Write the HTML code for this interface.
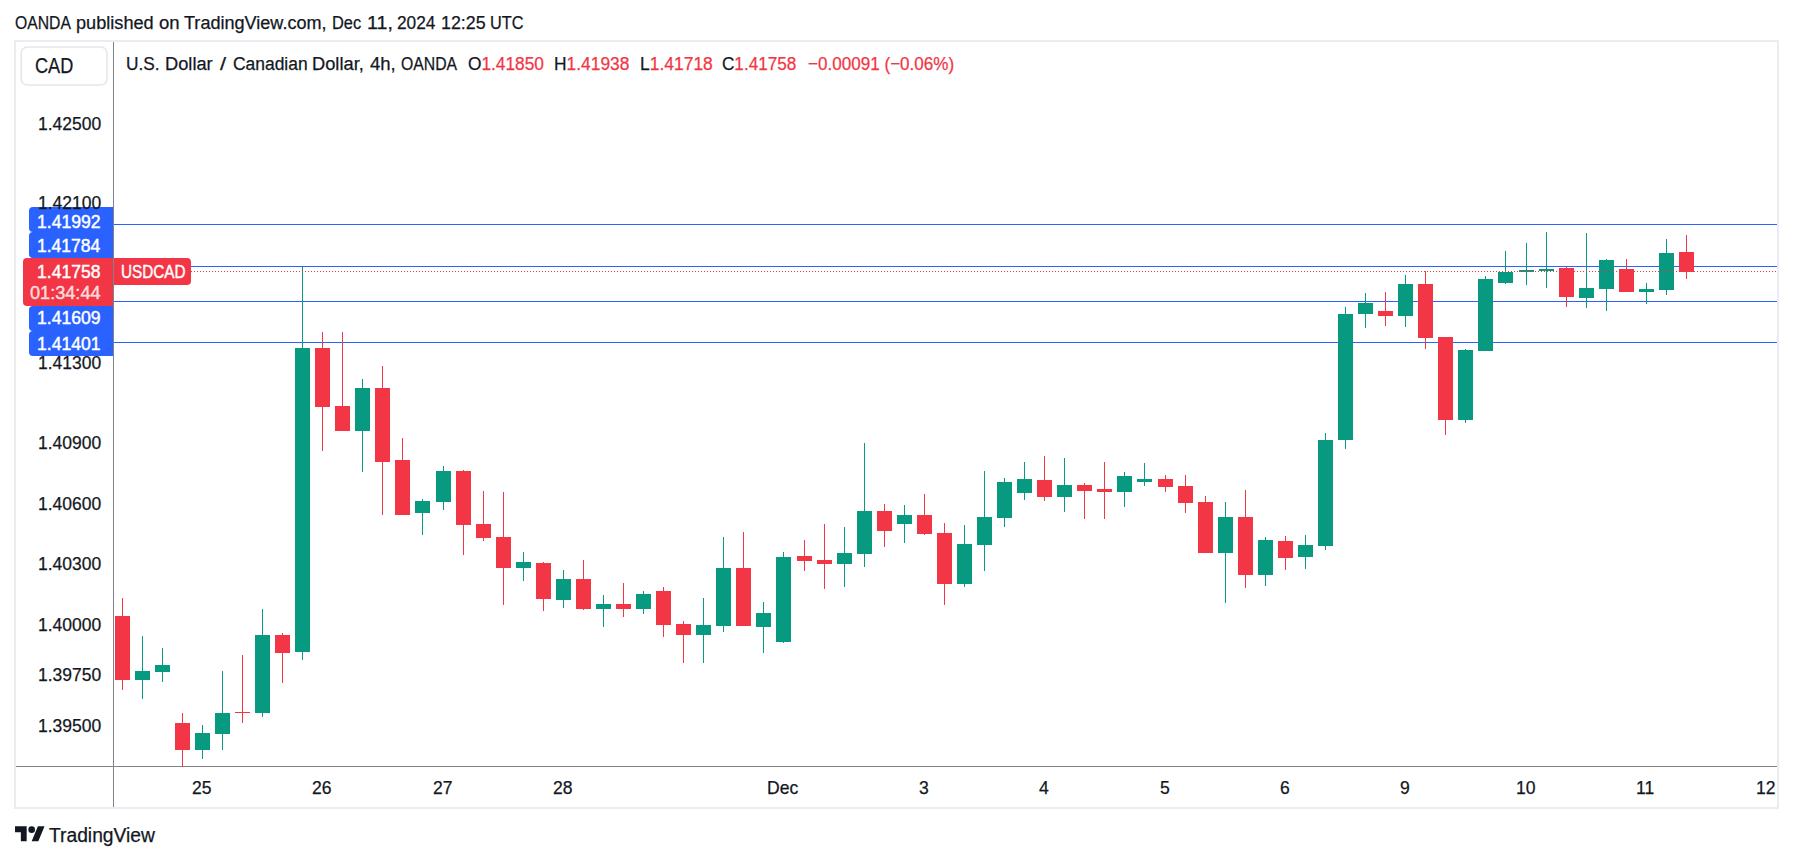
<!DOCTYPE html>
<html><head><meta charset="utf-8">
<style>
html,body{margin:0;padding:0;background:#fff;width:1793px;height:861px;overflow:hidden;}
body{position:relative;font-family:"Liberation Sans",sans-serif;color:#131722;}
.a{position:absolute;}
.t{position:absolute;white-space:nowrap;line-height:1;transform-origin:0 0;-webkit-text-stroke:0.25px currentColor;}
</style></head><body>

<div class="a" style="left:14px;top:40px;width:1761px;height:765px;border:2px solid #eaecf1;"></div>
<svg class="a" style="left:0;top:0" width="120" height="100"><rect x="21.25" y="47" width="85.7" height="38" rx="6" fill="none" stroke="#e3e6ec" stroke-width="1.5"/></svg>
<svg class="a" style="left:0;top:0" width="1793" height="861" shape-rendering="crispEdges">
<rect x="113" y="42" width="1" height="765" fill="#7f828b"/>
<rect x="16" y="766" width="1761" height="1" fill="#7f828b"/>
<rect x="114" y="224" width="1663" height="1" fill="#2962ff"/>
<rect x="114" y="266" width="1663" height="1" fill="#2962ff"/>
<rect x="114" y="301" width="1663" height="1" fill="#2962ff"/>
<rect x="114" y="342" width="1663" height="1" fill="#2962ff"/>
<rect x="122" y="598" width="1" height="92" fill="#f23645"/>
<rect x="115" y="616" width="15" height="64" fill="#f23645"/>
<rect x="142" y="636" width="1" height="63" fill="#089981"/>
<rect x="135" y="671" width="15" height="9" fill="#089981"/>
<rect x="162" y="648" width="1" height="34" fill="#089981"/>
<rect x="155" y="665" width="15" height="7" fill="#089981"/>
<rect x="182" y="713" width="1" height="54" fill="#f23645"/>
<rect x="175" y="723" width="15" height="27" fill="#f23645"/>
<rect x="202" y="725" width="1" height="34" fill="#089981"/>
<rect x="195" y="733" width="15" height="17" fill="#089981"/>
<rect x="222" y="671" width="1" height="79" fill="#089981"/>
<rect x="215" y="713" width="15" height="21" fill="#089981"/>
<rect x="242" y="655" width="1" height="68" fill="#f23645"/>
<rect x="235" y="712" width="15" height="1" fill="#f23645"/>
<rect x="262" y="609" width="1" height="108" fill="#089981"/>
<rect x="255" y="635" width="15" height="78" fill="#089981"/>
<rect x="282" y="633" width="1" height="50" fill="#f23645"/>
<rect x="275" y="635" width="15" height="18" fill="#f23645"/>
<rect x="302" y="267" width="1" height="393" fill="#089981"/>
<rect x="295" y="348" width="15" height="304" fill="#089981"/>
<rect x="322" y="332" width="1" height="119" fill="#f23645"/>
<rect x="315" y="348" width="15" height="59" fill="#f23645"/>
<rect x="342" y="332" width="1" height="99" fill="#f23645"/>
<rect x="335" y="406" width="15" height="25" fill="#f23645"/>
<rect x="362" y="379" width="1" height="93" fill="#089981"/>
<rect x="355" y="388" width="15" height="43" fill="#089981"/>
<rect x="382" y="366" width="1" height="149" fill="#f23645"/>
<rect x="375" y="388" width="15" height="74" fill="#f23645"/>
<rect x="402" y="438" width="1" height="77" fill="#f23645"/>
<rect x="395" y="460" width="15" height="55" fill="#f23645"/>
<rect x="422" y="499" width="1" height="36" fill="#089981"/>
<rect x="415" y="501" width="15" height="12" fill="#089981"/>
<rect x="443" y="466" width="1" height="44" fill="#089981"/>
<rect x="436" y="471" width="15" height="31" fill="#089981"/>
<rect x="463" y="470" width="1" height="85" fill="#f23645"/>
<rect x="456" y="471" width="15" height="54" fill="#f23645"/>
<rect x="483" y="491" width="1" height="50" fill="#f23645"/>
<rect x="476" y="524" width="15" height="14" fill="#f23645"/>
<rect x="503" y="492" width="1" height="113" fill="#f23645"/>
<rect x="496" y="537" width="15" height="31" fill="#f23645"/>
<rect x="523" y="552" width="1" height="29" fill="#089981"/>
<rect x="516" y="562" width="15" height="6" fill="#089981"/>
<rect x="543" y="562" width="1" height="49" fill="#f23645"/>
<rect x="536" y="563" width="15" height="36" fill="#f23645"/>
<rect x="563" y="570" width="1" height="38" fill="#089981"/>
<rect x="556" y="579" width="15" height="21" fill="#089981"/>
<rect x="583" y="560" width="1" height="50" fill="#f23645"/>
<rect x="576" y="579" width="15" height="30" fill="#f23645"/>
<rect x="603" y="595" width="1" height="32" fill="#089981"/>
<rect x="596" y="604" width="15" height="5" fill="#089981"/>
<rect x="623" y="583" width="1" height="34" fill="#f23645"/>
<rect x="616" y="604" width="15" height="5" fill="#f23645"/>
<rect x="643" y="591" width="1" height="23" fill="#089981"/>
<rect x="636" y="594" width="15" height="15" fill="#089981"/>
<rect x="663" y="587" width="1" height="50" fill="#f23645"/>
<rect x="656" y="591" width="15" height="34" fill="#f23645"/>
<rect x="683" y="621" width="1" height="42" fill="#f23645"/>
<rect x="676" y="624" width="15" height="11" fill="#f23645"/>
<rect x="703" y="598" width="1" height="65" fill="#089981"/>
<rect x="696" y="625" width="15" height="10" fill="#089981"/>
<rect x="723" y="537" width="1" height="95" fill="#089981"/>
<rect x="716" y="568" width="15" height="58" fill="#089981"/>
<rect x="743" y="532" width="1" height="94" fill="#f23645"/>
<rect x="736" y="568" width="15" height="58" fill="#f23645"/>
<rect x="763" y="602" width="1" height="51" fill="#089981"/>
<rect x="756" y="613" width="15" height="14" fill="#089981"/>
<rect x="783" y="552" width="1" height="91" fill="#089981"/>
<rect x="776" y="557" width="15" height="85" fill="#089981"/>
<rect x="804" y="540" width="1" height="31" fill="#f23645"/>
<rect x="797" y="556" width="15" height="5" fill="#f23645"/>
<rect x="824" y="524" width="1" height="65" fill="#f23645"/>
<rect x="817" y="560" width="15" height="4" fill="#f23645"/>
<rect x="844" y="527" width="1" height="60" fill="#089981"/>
<rect x="837" y="553" width="15" height="11" fill="#089981"/>
<rect x="864" y="443" width="1" height="124" fill="#089981"/>
<rect x="857" y="511" width="15" height="43" fill="#089981"/>
<rect x="884" y="504" width="1" height="43" fill="#f23645"/>
<rect x="877" y="511" width="15" height="20" fill="#f23645"/>
<rect x="904" y="505" width="1" height="38" fill="#089981"/>
<rect x="897" y="515" width="15" height="9" fill="#089981"/>
<rect x="924" y="494" width="1" height="41" fill="#f23645"/>
<rect x="917" y="515" width="15" height="19" fill="#f23645"/>
<rect x="944" y="523" width="1" height="82" fill="#f23645"/>
<rect x="937" y="533" width="15" height="51" fill="#f23645"/>
<rect x="964" y="525" width="1" height="62" fill="#089981"/>
<rect x="957" y="544" width="15" height="40" fill="#089981"/>
<rect x="984" y="471" width="1" height="100" fill="#089981"/>
<rect x="977" y="517" width="15" height="28" fill="#089981"/>
<rect x="1004" y="478" width="1" height="49" fill="#089981"/>
<rect x="997" y="482" width="15" height="36" fill="#089981"/>
<rect x="1024" y="462" width="1" height="38" fill="#089981"/>
<rect x="1017" y="479" width="15" height="14" fill="#089981"/>
<rect x="1044" y="456" width="1" height="45" fill="#f23645"/>
<rect x="1037" y="480" width="15" height="17" fill="#f23645"/>
<rect x="1064" y="458" width="1" height="54" fill="#089981"/>
<rect x="1057" y="485" width="15" height="12" fill="#089981"/>
<rect x="1084" y="483" width="1" height="36" fill="#f23645"/>
<rect x="1077" y="485" width="15" height="6" fill="#f23645"/>
<rect x="1104" y="462" width="1" height="57" fill="#f23645"/>
<rect x="1097" y="489" width="15" height="3" fill="#f23645"/>
<rect x="1124" y="472" width="1" height="35" fill="#089981"/>
<rect x="1117" y="476" width="15" height="16" fill="#089981"/>
<rect x="1144" y="463" width="1" height="23" fill="#089981"/>
<rect x="1137" y="479" width="15" height="3" fill="#089981"/>
<rect x="1165" y="475" width="1" height="17" fill="#f23645"/>
<rect x="1158" y="479" width="15" height="8" fill="#f23645"/>
<rect x="1185" y="475" width="1" height="38" fill="#f23645"/>
<rect x="1178" y="486" width="15" height="17" fill="#f23645"/>
<rect x="1205" y="496" width="1" height="57" fill="#f23645"/>
<rect x="1198" y="502" width="15" height="51" fill="#f23645"/>
<rect x="1225" y="502" width="1" height="101" fill="#089981"/>
<rect x="1218" y="517" width="15" height="36" fill="#089981"/>
<rect x="1245" y="490" width="1" height="98" fill="#f23645"/>
<rect x="1238" y="517" width="15" height="58" fill="#f23645"/>
<rect x="1265" y="537" width="1" height="49" fill="#089981"/>
<rect x="1258" y="540" width="15" height="35" fill="#089981"/>
<rect x="1285" y="536" width="1" height="34" fill="#f23645"/>
<rect x="1278" y="541" width="15" height="17" fill="#f23645"/>
<rect x="1305" y="535" width="1" height="34" fill="#089981"/>
<rect x="1298" y="545" width="15" height="12" fill="#089981"/>
<rect x="1325" y="433" width="1" height="117" fill="#089981"/>
<rect x="1318" y="440" width="15" height="106" fill="#089981"/>
<rect x="1345" y="307" width="1" height="142" fill="#089981"/>
<rect x="1338" y="314" width="15" height="126" fill="#089981"/>
<rect x="1365" y="293" width="1" height="35" fill="#089981"/>
<rect x="1358" y="303" width="15" height="11" fill="#089981"/>
<rect x="1385" y="292" width="1" height="34" fill="#f23645"/>
<rect x="1378" y="311" width="15" height="5" fill="#f23645"/>
<rect x="1405" y="275" width="1" height="52" fill="#089981"/>
<rect x="1398" y="284" width="15" height="32" fill="#089981"/>
<rect x="1425" y="271" width="1" height="78" fill="#f23645"/>
<rect x="1418" y="284" width="15" height="54" fill="#f23645"/>
<rect x="1445" y="337" width="1" height="98" fill="#f23645"/>
<rect x="1438" y="337" width="15" height="83" fill="#f23645"/>
<rect x="1465" y="349" width="1" height="74" fill="#089981"/>
<rect x="1458" y="350" width="15" height="70" fill="#089981"/>
<rect x="1485" y="276" width="1" height="75" fill="#089981"/>
<rect x="1478" y="279" width="15" height="72" fill="#089981"/>
<rect x="1505" y="251" width="1" height="33" fill="#089981"/>
<rect x="1498" y="272" width="15" height="11" fill="#089981"/>
<rect x="1526" y="243" width="1" height="42" fill="#089981"/>
<rect x="1519" y="270" width="15" height="2" fill="#089981"/>
<rect x="1546" y="232" width="1" height="56" fill="#089981"/>
<rect x="1539" y="269" width="15" height="2" fill="#089981"/>
<rect x="1566" y="267" width="1" height="40" fill="#f23645"/>
<rect x="1559" y="268" width="15" height="29" fill="#f23645"/>
<rect x="1586" y="233" width="1" height="75" fill="#089981"/>
<rect x="1579" y="288" width="15" height="10" fill="#089981"/>
<rect x="1606" y="259" width="1" height="52" fill="#089981"/>
<rect x="1599" y="260" width="15" height="29" fill="#089981"/>
<rect x="1626" y="259" width="1" height="33" fill="#f23645"/>
<rect x="1619" y="269" width="15" height="23" fill="#f23645"/>
<rect x="1646" y="283" width="1" height="21" fill="#089981"/>
<rect x="1639" y="289" width="15" height="3" fill="#089981"/>
<rect x="1666" y="239" width="1" height="56" fill="#089981"/>
<rect x="1659" y="253" width="15" height="37" fill="#089981"/>
<rect x="1686" y="235" width="1" height="44" fill="#f23645"/>
<rect x="1679" y="252" width="15" height="20" fill="#f23645"/>
<line x1="191" y1="271.5" x2="1777" y2="271.5" stroke="#f23645" stroke-width="1" stroke-dasharray="1 2"/>
</svg>
<div class="a" style="left:29px;top:207px;width:84px;height:25px;background:#2962ff;border-radius:4px 0 0 4px;"></div>
<div class="a" style="left:29px;top:232px;width:84px;height:26px;background:#2962ff;border-radius:4px 0 0 4px;"></div>
<div class="a" style="left:29px;top:306px;width:84px;height:25px;background:#2962ff;border-radius:4px 0 0 4px;"></div>
<div class="a" style="left:29px;top:331px;width:84px;height:25px;background:#2962ff;border-radius:4px 0 0 4px;"></div>
<div class="a" style="left:23px;top:258px;width:90px;height:48px;background:#f23645;border-radius:4px 0 0 4px;"></div>
<div class="a" style="left:114px;top:258px;width:77px;height:27px;background:#f23645;border-radius:0 4px 4px 0;"></div>
<div class="t" style="left:14.79px;top:14.17px;font-size:18.26px;font-weight:normal;color:#131722;transform:scaleX(0.8624);">OANDA</div>
<div class="t" style="left:76.12px;top:14.17px;font-size:18.26px;font-weight:normal;color:#131722;transform:scaleX(0.9936);">published</div>
<div class="t" style="left:158.86px;top:14.17px;font-size:18.26px;font-weight:normal;color:#131722;transform:scaleX(1.0135);">on</div>
<div class="t" style="left:183.55px;top:14.17px;font-size:18.26px;font-weight:normal;color:#131722;transform:scaleX(0.9897);">TradingView.com,</div>
<div class="t" style="left:331.79px;top:14.17px;font-size:18.26px;font-weight:normal;color:#131722;transform:scaleX(0.8985);">Dec</div>
<div class="t" style="left:367.13px;top:14.17px;font-size:18.26px;font-weight:normal;color:#131722;transform:scaleX(1.0762);">11,</div>
<div class="t" style="left:397.34px;top:14.17px;font-size:18.26px;font-weight:normal;color:#131722;transform:scaleX(0.9472);">2024</div>
<div class="t" style="left:440.56px;top:14.17px;font-size:18.26px;font-weight:normal;color:#131722;transform:scaleX(0.9781);">12:25</div>
<div class="t" style="left:490.38px;top:14.17px;font-size:18.26px;font-weight:normal;color:#131722;transform:scaleX(0.8920);">UTC</div>
<div class="t" style="left:125.71px;top:55.05px;font-size:18.41px;font-weight:normal;color:#131722;transform:scaleX(0.9371);">U.S.</div>
<div class="t" style="left:164.54px;top:55.05px;font-size:18.41px;font-weight:normal;color:#131722;transform:scaleX(0.9916);">Dollar</div>
<div class="t" style="left:219.90px;top:55.05px;font-size:18.41px;font-weight:normal;color:#131722;transform:scaleX(1.1854);">/</div>
<div class="t" style="left:232.63px;top:55.05px;font-size:18.41px;font-weight:normal;color:#131722;transform:scaleX(0.9470);">Canadian</div>
<div class="t" style="left:312.14px;top:55.05px;font-size:18.41px;font-weight:normal;color:#131722;transform:scaleX(0.9928);">Dollar,</div>
<div class="t" style="left:369.84px;top:55.05px;font-size:18.41px;font-weight:normal;color:#131722;transform:scaleX(1.0057);">4h,</div>
<div class="t" style="left:400.69px;top:55.05px;font-size:18.41px;font-weight:normal;color:#131722;transform:scaleX(0.8572);">OANDA</div>
<div class="t" style="left:467.62px;top:55.05px;font-size:18.41px;font-weight:normal;color:#131722;transform:scaleX(0.9391);">O<span style="color:#f23645">1.41850</span></div>
<div class="t" style="left:553.61px;top:55.05px;font-size:18.41px;font-weight:normal;color:#131722;transform:scaleX(0.9448);">H<span style="color:#f23645">1.41938</span></div>
<div class="t" style="left:639.50px;top:55.05px;font-size:18.41px;font-weight:normal;color:#131722;transform:scaleX(0.9484);">L<span style="color:#f23645">1.41718</span></div>
<div class="t" style="left:722.34px;top:55.05px;font-size:18.41px;font-weight:normal;color:#131722;transform:scaleX(0.9305);">C<span style="color:#f23645">1.41758</span></div>
<div class="t" style="left:807.55px;top:55.05px;font-size:18.41px;font-weight:normal;color:#f23645;transform:scaleX(0.9278);">−0.00091 (−0.06%)</div>
<div class="t" style="left:34.89px;top:54.85px;font-size:21.59px;font-weight:normal;color:#131722;transform:scaleX(0.8411);">CAD</div>
<div class="t" style="left:37.79px;top:115.05px;font-size:18.31px;font-weight:normal;color:#131722;transform:scaleX(0.9550);">1.42500</div>
<div class="t" style="left:37.79px;top:193.85px;font-size:18.31px;font-weight:normal;color:#131722;transform:scaleX(0.9550);">1.42100</div>
<div class="t" style="left:37.79px;top:354.15px;font-size:18.31px;font-weight:normal;color:#131722;transform:scaleX(0.9550);">1.41300</div>
<div class="t" style="left:37.79px;top:434.05px;font-size:18.31px;font-weight:normal;color:#131722;transform:scaleX(0.9550);">1.40900</div>
<div class="t" style="left:37.79px;top:494.95px;font-size:18.31px;font-weight:normal;color:#131722;transform:scaleX(0.9550);">1.40600</div>
<div class="t" style="left:37.79px;top:554.95px;font-size:18.31px;font-weight:normal;color:#131722;transform:scaleX(0.9550);">1.40300</div>
<div class="t" style="left:37.79px;top:615.95px;font-size:18.31px;font-weight:normal;color:#131722;transform:scaleX(0.9550);">1.40000</div>
<div class="t" style="left:37.79px;top:665.95px;font-size:18.31px;font-weight:normal;color:#131722;transform:scaleX(0.9550);">1.39750</div>
<div class="t" style="left:37.79px;top:716.85px;font-size:18.31px;font-weight:normal;color:#131722;transform:scaleX(0.9550);">1.39500</div>
<div class="t" style="left:191.96px;top:779.15px;font-size:18.31px;font-weight:normal;color:#131722;transform:scaleX(0.9600);">25</div>
<div class="t" style="left:311.96px;top:779.15px;font-size:18.31px;font-weight:normal;color:#131722;transform:scaleX(0.9600);">26</div>
<div class="t" style="left:433.04px;top:779.15px;font-size:18.31px;font-weight:normal;color:#131722;transform:scaleX(0.9600);">27</div>
<div class="t" style="left:552.96px;top:779.15px;font-size:18.31px;font-weight:normal;color:#131722;transform:scaleX(0.9600);">28</div>
<div class="t" style="left:766.72px;top:779.15px;font-size:18.31px;font-weight:normal;color:#131722;transform:scaleX(0.9600);">Dec</div>
<div class="t" style="left:918.97px;top:779.15px;font-size:18.31px;font-weight:normal;color:#131722;transform:scaleX(0.9600);">3</div>
<div class="t" style="left:1038.97px;top:779.15px;font-size:18.31px;font-weight:normal;color:#131722;transform:scaleX(0.9600);">4</div>
<div class="t" style="left:1159.92px;top:779.15px;font-size:18.31px;font-weight:normal;color:#131722;transform:scaleX(0.9600);">5</div>
<div class="t" style="left:1279.88px;top:779.15px;font-size:18.31px;font-weight:normal;color:#131722;transform:scaleX(0.9600);">6</div>
<div class="t" style="left:1399.92px;top:779.15px;font-size:18.31px;font-weight:normal;color:#131722;transform:scaleX(0.9600);">9</div>
<div class="t" style="left:1515.69px;top:779.15px;font-size:18.31px;font-weight:normal;color:#131722;transform:scaleX(0.9600);">10</div>
<div class="t" style="left:1636.44px;top:779.15px;font-size:18.31px;font-weight:normal;color:#131722;transform:scaleX(0.9600);">11</div>
<div class="t" style="left:1755.82px;top:779.15px;font-size:18.31px;font-weight:normal;color:#131722;transform:scaleX(0.9600);">12</div>
<div class="t" style="left:36.68px;top:212.69px;font-size:18.03px;font-weight:normal;color:#fff;transform:scaleX(0.9759);-webkit-text-stroke:0.45px #fff;">1.41992</div>
<div class="t" style="left:36.69px;top:237.27px;font-size:18.17px;font-weight:normal;color:#fff;transform:scaleX(0.9628);-webkit-text-stroke:0.45px #fff;">1.41784</div>
<div class="t" style="left:36.68px;top:263.15px;font-size:18.31px;font-weight:normal;color:#fff;transform:scaleX(0.9595);-webkit-text-stroke:0.45px #fff;">1.41758</div>
<div class="t" style="left:36.68px;top:309.37px;font-size:18.17px;font-weight:normal;color:#fff;transform:scaleX(0.9683);-webkit-text-stroke:0.45px #fff;">1.41609</div>
<div class="t" style="left:36.68px;top:335.17px;font-size:18.17px;font-weight:normal;color:#fff;transform:scaleX(0.9683);-webkit-text-stroke:0.45px #fff;">1.41401</div>
<div class="t" style="left:29.77px;top:284.12px;font-size:18.45px;font-weight:normal;color:rgba(255,255,255,0.78);transform:scaleX(0.9834);-webkit-text-stroke:0.45px rgba(255,255,255,0.78);">01:34:44</div>
<div class="t" style="left:120.55px;top:263.02px;font-size:18.55px;font-weight:normal;color:#fff;transform:scaleX(0.8257);-webkit-text-stroke:0.45px #fff;">USDCAD</div>
<div class="t" style="left:49.22px;top:825.10px;font-size:20.00px;font-weight:normal;color:#131722;transform:scaleX(0.9626);">TradingView</div>
<svg class="a" style="left:14.9px;top:822.9px" width="30" height="23.3" viewBox="0 0 36 28"><path fill="#131722" d="M14 22H7V11H0V4h14v18ZM28 22h-8l7.5-18h8L28 22Z"/><circle fill="#131722" cx="20" cy="8" r="4"/></svg>
</body></html>
